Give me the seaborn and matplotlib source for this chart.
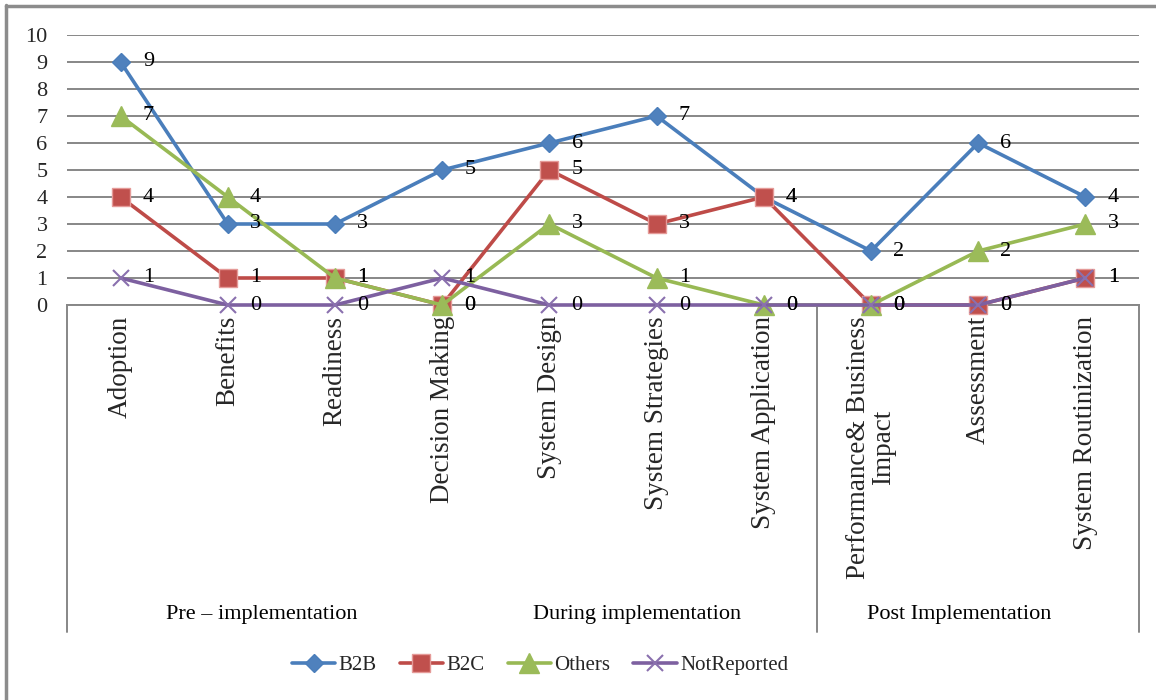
import matplotlib
matplotlib.use("Agg")
import matplotlib.pyplot as plt
from matplotlib.lines import Line2D
import seaborn as sns
import pandas as pd

# Research themes along the implementation life cycle
categories = ["Adoption", "Benefits", "Readiness", "Decision Making", "System Design",
              "System Strategies", "System Application", "Performance& Business\nImpact",
              "Assessment", "System Routinization"]
groups = ["Pre \u2013 implementation", "During implementation", "Post Implementation"]
group_sizes = [4, 3, 3]

b2b = [9, 3, 3, 5, 6, 7, 4, 2, 6, 4]
b2c = [4, 1, 1, 0, 5, 3, 4, 0, 0, 1]
others = [7, 4, 1, 0, 3, 1, 0, 0, 2, 3]
not_reported = [1, 0, 0, 1, 0, 0, 0, 0, 0, 1]

series_names = ["B2B", "B2C", "Others", "NotReported"]
series_values = [b2b, b2c, others, not_reported]
y_ticks = list(range(0, 11))

styles = {
    "B2B": dict(color="#4A7EBB", marker="D", markersize=9.5, mfc="#4F81BD", mec="#4A7EBB"),
    "B2C": dict(color="#BE4B48", marker="s", markersize=13, mfc="#C0504D", mec="#E59A98"),
    "Others": dict(color="#98B954", marker="^", markersize=14, mfc="#9BBB59", mec="#9BBB59"),
    "NotReported": dict(color="#7D60A0", marker="x", markersize=12, mfc="#8064A2", mec="#8A70AE"),
}

sns.set_theme(style="white")
plt.rcParams["font.family"] = ["Liberation Serif", "DejaVu Serif"]

fig = plt.figure(figsize=(11.56, 7.0), dpi=100)
ax = fig.add_axes([67 / 1156, 1 - 305 / 700, 1072 / 1156, 270 / 700])

positions = list(range(len(categories)))
for name, vals in zip(series_names, series_values):
    df = pd.DataFrame({"pos": positions, "value": vals})
    st = styles[name]
    sns.lineplot(data=df, x="pos", y="value", ax=ax, color=st["color"], linewidth=2.6,
                 marker=st["marker"], markersize=st["markersize"],
                 markerfacecolor=st["mfc"], markeredgecolor=st["mec"],
                 markeredgewidth=1.5 if name == "NotReported" else 1.0,
                 label=name, zorder=3, clip_on=False)
    for x, v in zip(positions, vals):
        ax.annotate(str(v), (x, v), xytext=(16, 0), textcoords="offset points",
                    ha="left", va="center", fontsize=16, color="black", zorder=5,
                    annotation_clip=False)

handles, labels = ax.get_legend_handles_labels()
if ax.get_legend() is not None:
    ax.get_legend().remove()

ax.set_xlim(-0.5, len(categories) - 0.5)
ax.set_ylim(0, 10)
ax.set_yticks(y_ticks)
ax.set_yticklabels([str(t) for t in y_ticks], fontsize=16)
ax.yaxis.grid(True, color="#878787", linewidth=1.4)
ax.xaxis.grid(False)
ax.set_axisbelow(True)
ax.tick_params(axis="y", length=0, pad=14)
ax.tick_params(axis="x", length=0, pad=8)
ax.set_xticks(positions)
ax.set_xticklabels(categories, rotation=90, fontsize=19.5, va="top", ha="center",
                   multialignment="center", linespacing=1.0)
ax.set_xlabel("")
ax.set_ylabel("")
for side in ["top", "right", "left"]:
    ax.spines[side].set_visible(False)
ax.spines["bottom"].set_color("#878787")
ax.spines["bottom"].set_linewidth(1.4)

# Boxes of the grouped category axis
trans = ax.get_xaxis_transform()
box_bottom = -(632 - 305) / 270
edges = [-0.5]
for s in group_sizes:
    edges.append(edges[-1] + s)
for e in [edges[0], edges[2], edges[3]]:
    ax.plot([e, e], [0, box_bottom], transform=trans, color="#878787",
            linewidth=1.4, clip_on=False)
label_y = -(615 - 305) / 270
for g, a, b in zip(groups, edges[:-1], edges[1:]):
    ax.text((a + b) / 2 - 0.18, label_y, g, transform=trans, ha="center", va="center",
            fontsize=16, color="black")

fig.legend(handles, labels, loc="center", bbox_to_anchor=(540 / 1156, 1 - 665 / 700),
           ncol=4, frameon=False, fontsize=15, handlelength=2.1, handletextpad=0.15,
           columnspacing=1.1)

# Chart frame
fig.add_artist(Line2D([6 / 1156, 6 / 1156], [0, 1 - 5 / 700], transform=fig.transFigure,
                      color="#8c8c8c", linewidth=2.5))
fig.add_artist(Line2D([6 / 1156, 1], [1 - 6 / 700, 1 - 6 / 700], transform=fig.transFigure,
                      color="#8c8c8c", linewidth=2.5))

fig.savefig("out.png", dpi=100)
